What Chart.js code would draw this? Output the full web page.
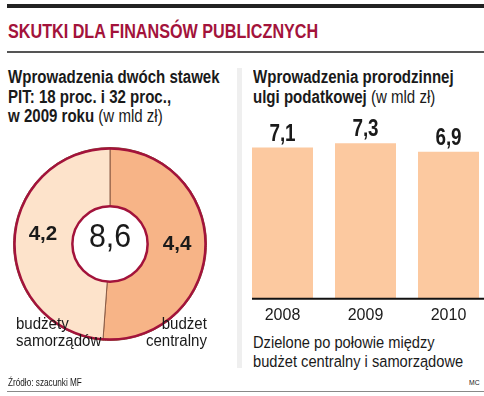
<!DOCTYPE html>
<html>
<head>
<meta charset="utf-8">
<script src="https://cdn.jsdelivr.net/npm/chart.js@4.4.1/dist/chart.umd.min.js"></script>
<style>
  html, body { margin: 0; padding: 0; background: #fff; overflow: hidden; }
  body { width: 484px; height: 396px; position: relative; font-family: 'Liberation Sans', Arial, sans-serif; color: #1a1a1a; }
  .abs { position: absolute; white-space: nowrap; transform-origin: left top; }
  .sub { font-weight: bold; font-size: 17.5px; line-height: 19.5px; transform: scaleX(0.86); }
  .sub span { font-weight: normal; }
  #pieBox { left: 13px; top: 147px; width: 194px; height: 194px; }
  #barBox { left: 241px; top: 100px; width: 249px; height: 232px; }
</style>
</head>
<body>
<div class="abs" style="left:7px;top:4px;width:477px;height:4px;background:#222;"></div>
<div class="abs" style="left:8px;top:19px;font-weight:bold;font-size:21px;color:#a3133b;transform:scaleX(0.77);">SKUTKI DLA FINANSÓW PUBLICZNYCH</div>
<div class="abs" style="left:7px;top:51px;width:477px;height:2px;background:#555;"></div>
<div class="abs" style="left:237px;top:68px;width:5px;height:300px;background:#efefef;"></div>

<div class="abs sub" style="left:8px;top:68px;">Wprowadzenia dwóch stawek<br>PIT: 18 proc. i 32 proc.,<br>w 2009 roku <span>(w mld zł)</span></div>
<div class="abs sub" style="left:253px;top:68px;">Wprowadzenia prorodzinnej<br>ulgi podatkowej <span>(w mld zł)</span></div>

<div class="abs" id="pieBox"><canvas id="pie"></canvas></div>
<div class="abs" id="barBox"><canvas id="bar"></canvas></div>

<div class="abs" id="lblLeft" style="left:16px;top:316px;font-size:16px;line-height:16.5px;transform:scaleX(0.94);"></div>
<div class="abs" id="lblRight" style="right:277px;top:316px;font-size:16px;line-height:16.5px;text-align:right;transform-origin:right top;transform:scaleX(0.94);"></div>

<div class="abs" style="left:253px;top:333px;font-size:16.3px;line-height:18.7px;transform:scaleX(0.9);">Dzielone po połowie między<br>budżet centralny i samorządowe</div>
<div class="abs" style="left:8px;top:377px;font-size:10px;transform:scaleX(0.82);">Źródło: szacunki MF</div>
<div class="abs" style="left:469px;top:378px;font-size:8px;transform:scaleX(0.85);">MC</div>
<div class="abs" style="left:7px;top:391px;width:477px;height:1px;background:#888;"></div>

<script>
// doughnut: PIT split, clockwise from the top
var pieLabels = ["budżet centralny", "budżety samorządów"];
var pieValues = [4.4, 4.2];
var pieColors = ["#f7b487", "#fde3cb"];

// bars: prorodzinna ulga
var barYears = ["2008", "2009", "2010"];
var barValues = [7.1, 7.3, 6.9];

var fontName = "'Liberation Sans', Arial, sans-serif";

function fmt(v) {
    return v.toFixed(1).replace(".", ",");
}

// canvas has no font-stretch we can count on, so squeeze by hand
function narrowText(ctx, text, x, y, sx) {
    ctx.save();
    ctx.translate(x, y);
    ctx.scale(sx, 1);
    ctx.fillText(text, 0, 0);
    ctx.restore();
}

document.getElementById("lblRight").innerHTML = pieLabels[0].replace(" ", "<br>");
document.getElementById("lblLeft").innerHTML = pieLabels[1].replace(" ", "<br>");

var ringPlugin = {
    id: "ring",
    afterDatasetsDraw: function(chart) {
        var ctx = chart.ctx;
        var arcs = chart.getDatasetMeta(0).data;
        var a = arcs[0];
        ctx.save();
        ctx.strokeStyle = "#a3133b";
        ctx.lineWidth = 2.5;
        ctx.beginPath();
        ctx.arc(a.x, a.y, a.outerRadius - 1, 0, Math.PI * 2);
        ctx.stroke();
        ctx.beginPath();
        ctx.arc(a.x, a.y, a.innerRadius, 0, Math.PI * 2);
        ctx.stroke();

        ctx.fillStyle = "#1a1a1a";
        ctx.textAlign = "center";
        ctx.textBaseline = "alphabetic";
        ctx.font = "bold 21px " + fontName;
        arcs.forEach(function(arc, i) {
            var p = arc.tooltipPosition();
            var lift = i == 1 ? 6 : 0;
            narrowText(ctx, fmt(pieValues[i]), p.x, p.y + 4 - lift, 0.98);
        });
        var total = pieValues.reduce(function(s, v) { return s + v; }, 0);
        ctx.font = "33px " + fontName;
        narrowText(ctx, fmt(total), a.x, a.y + 3, 0.92);
        ctx.restore();
    }
};

new Chart(document.getElementById("pie"), {
    type: "doughnut",
    data: {
        labels: pieLabels,
        datasets: [{
            data: pieValues,
            backgroundColor: pieColors,
            borderColor: "#8a5a44",
            borderWidth: 1
        }]
    },
    options: {
        responsive: true,
        maintainAspectRatio: false,
        animation: false,
        cutout: "39%",
        plugins: { legend: { display: false }, tooltip: { enabled: false } }
    },
    plugins: [ringPlugin]
});

var barPlugin = {
    id: "barLabels",
    afterDatasetsDraw: function(chart) {
        var ctx = chart.ctx;
        var bars = chart.getDatasetMeta(0).data;
        var area = chart.chartArea;
        ctx.save();
        ctx.strokeStyle = "#111";
        ctx.lineWidth = 2;
        ctx.beginPath();
        ctx.moveTo(bars[0].x - bars[0].width / 2, area.bottom);
        ctx.lineTo(area.right, area.bottom);
        ctx.stroke();
        ctx.fillStyle = "#1a1a1a";
        ctx.textAlign = "center";
        ctx.textBaseline = "alphabetic";
        ctx.font = "bold 23px " + fontName;
        bars.forEach(function(b, i) {
            narrowText(ctx, fmt(barValues[i]), b.x, b.y - 7, 0.82);
        });
        ctx.restore();
    }
};

new Chart(document.getElementById("bar"), {
    type: "bar",
    data: {
        labels: barYears,
        datasets: [{
            data: barValues,
            backgroundColor: "#fcc9a0",
            borderWidth: 0,
            categoryPercentage: 1,
            barPercentage: 0.735
        }]
    },
    options: {
        responsive: true,
        maintainAspectRatio: false,
        animation: false,
        layout: { padding: { top: 22 } },
        scales: {
            x: {
                grid: { display: false, drawTicks: false },
                border: { display: false },
                ticks: { color: "#1a1a1a", padding: 7, font: { family: fontName, size: 16 } }
            },
            y: { display: false, min: 0, max: 8.3 }
        },
        plugins: { legend: { display: false }, tooltip: { enabled: false } }
    },
    plugins: [barPlugin]
});
</script>
</body>
</html>
